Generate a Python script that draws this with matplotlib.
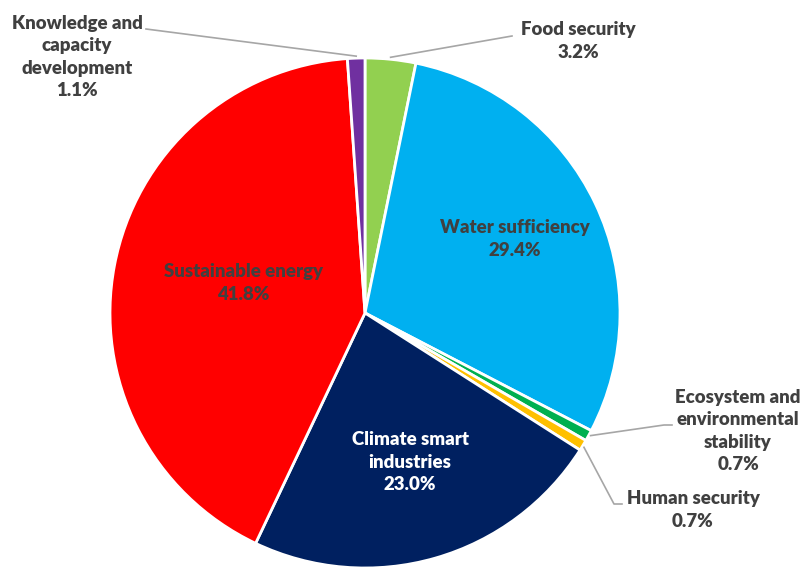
import numpy as np
import matplotlib
matplotlib.use("Agg")
import matplotlib.pyplot as plt

labels = ["Food security", "Water sufficiency", "Ecosystem and\nenvironmental\nstability",
          "Human security", "Climate smart\nindustries", "Sustainable energy",
          "Knowledge and\ncapacity\ndevelopment"]
shares = [3.2, 29.4, 0.7, 0.7, 23.0, 41.8, 1.1]
colors = ["#92D050", "#00B0F0", "#00B050", "#FFC000", "#002060", "#FF0000", "#7030A0"]

W, H = 806, 578
fig = plt.figure(figsize=(W / 100, H / 100), dpi=100)
ax = fig.add_axes([0, 0, 1, 1])
ax.set_xlim(0, W)
ax.set_ylim(H, 0)
ax.set_aspect("equal")
ax.axis("off")

cx, cy, r = 365, 313, 255
# y axis is inverted, so counterclock=True draws clockwise on screen; start at top
wedges, _ = ax.pie(shares, colors=colors, startangle=-90, counterclock=True,
                   center=(cx, cy), radius=r, frame=True,
                   wedgeprops=dict(edgecolor="white", linewidth=2))
ax.set_xlim(0, W)
ax.set_ylim(H, 0)
ax.axis("off")

txt = "#404040"
font = dict(family="Lato", fontweight="heavy", fontsize=13.4, ha="center", va="center",
            linespacing=1.4)


def edge_point(i, frac=1.0):
    w = wedges[i]
    ang = np.deg2rad((w.theta1 + w.theta2) / 2)
    return cx + r * frac * np.cos(ang), cy + r * frac * np.sin(ang)


def pct(i):
    return f"{shares[i]:.1f}%"


# inside labels
ax.text(515, 239, labels[1] + "\n" + pct(1), color=txt, **font)
ax.text(410, 462, labels[4] + "\n" + pct(4), color="white", **font)
ax.text(243, 283, labels[5] + "\n" + pct(5), color=txt, **font)

lc = "#A6A6A6"
# Food security
x0, y0 = edge_point(0, 1.0)
ax.plot([x0, 512], [y0 - 2, 36], color=lc, lw=1.2)
ax.text(578, 41, labels[0] + "\n" + pct(0), color=txt, **font)
# Knowledge
x0, y0 = edge_point(6, 1.0)
ax.plot([x0, 146], [y0 - 2, 29], color=lc, lw=1.2)
ax.text(77, 57, labels[6] + "\n" + pct(6), color=txt, **font)
# Ecosystem
x0, y0 = edge_point(2, 1.0)
ax.plot([x0 + 2, 664, 672], [y0, 425, 425], color=lc, lw=1.2)
ax.text(738, 431, labels[2] + "\n" + pct(2), color=txt, **font)
# Human security
x0, y0 = edge_point(3, 1.0)
ax.plot([x0 + 1, 614, 622], [y0 + 2, 504, 504], color=lc, lw=1.2)
ax.text(693, 510, labels[3] + "\n" + pct(3), color=txt, **font)

fig.savefig("out.png", dpi=100, facecolor="white")
